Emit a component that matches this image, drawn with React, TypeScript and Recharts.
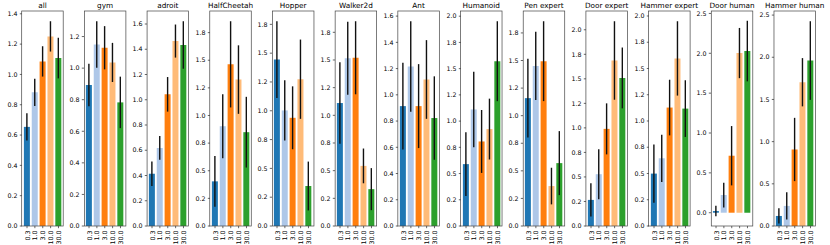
import React from 'react';
import { BarChart, Bar, XAxis, YAxis, Cell, ErrorBar } from 'recharts';

const categories = ['0.3', '1.0', '3.0', '10.0', '30.0'];
const barColors = ['#1f77b4', '#aec7e8', '#ff7f0e', '#ffbb78', '#2ca02c'];

const titles = [
  'all', 'gym', 'adroit', 'HalfCheetah', 'Hopper', 'Walker2d', 'Ant',
  'Humanoid', 'Pen expert', 'Door expert', 'Hammer expert', 'Door human', 'Hammer human',
];

// bar heights, one row per panel (same order as titles)
const means = [
  [0.654, 0.882, 1.086, 1.251, 1.108],
  [0.893, 1.150, 1.129, 1.036, 0.783],
  [0.414, 0.618, 1.043, 1.465, 1.434],
  [0.404, 0.903, 1.463, 1.325, 0.849],
  [1.444, 1.003, 0.939, 1.274, 0.347],
  [1.111, 1.515, 1.520, 0.543, 0.333],
  [0.914, 1.216, 0.914, 1.117, 0.823],
  [0.590, 1.111, 0.806, 0.924, 1.571],
  [1.159, 1.451, 1.494, 0.362, 0.570],
  [0.266, 0.528, 0.990, 1.687, 1.509],
  [0.499, 0.645, 1.128, 1.596, 1.118],
  [0.021, 0.222, 0.715, 2.003, 2.028],
  [0.119, 0.238, 0.907, 1.704, 1.961],
];

// symmetric error bar half-lengths
const errs = [
  [0.090, 0.090, 0.100, 0.100, 0.134],
  [0.135, 0.147, 0.137, 0.124, 0.163],
  [0.097, 0.094, 0.137, 0.131, 0.188],
  [0.230, 0.290, 0.390, 0.310, 0.320],
  [0.333, 0.262, 0.273, 0.344, 0.212],
  [0.368, 0.330, 0.330, 0.157, 0.190],
  [0.330, 0.345, 0.320, 0.300, 0.318],
  [0.303, 0.360, 0.300, 0.290, 0.381],
  [0.356, 0.310, 0.362, 0.166, 0.290],
  [0.170, 0.255, 0.260, 0.400, 0.310],
  [0.277, 0.225, 0.265, 0.354, 0.270],
  [0.065, 0.155, 0.372, 0.315, 0.380],
  [0.090, 0.162, 0.375, 0.286, 0.466],
];

const ticks02 = [0, 0.2, 0.4, 0.6, 0.8, 1.0, 1.2, 1.4, 1.6];
const ticks025 = [0, 0.25, 0.5, 0.75, 1.0, 1.25, 1.5, 1.75, 2.0];
const ticks05 = [0, 0.5, 1.0, 1.5, 2.0, 2.5];

const yTicks = [
  ticks02.slice(0, 8),
  ticks02.slice(0, 7),
  ticks02,
  ticks025.slice(0, 8),
  ticks025.slice(0, 8),
  ticks025.slice(0, 8),
  ticks02,
  ticks025,
  ticks025.slice(0, 8),
  ticks025,
  ticks025,
  ticks05,
  ticks05,
];

// python style '%.1f' (half to even), so 0.25 -> 0.2, 0.75 -> 0.8
const fmt = (v: number) => {
  const t = v * 10;
  const f = Math.floor(t + 1e-9);
  const d = t - f;
  let n = f;
  if (d > 0.5 + 1e-6) n = f + 1;
  else if (Math.abs(d - 0.5) <= 1e-6) n = f % 2 === 0 ? f : f + 1;
  return (n / 10).toFixed(1);
};

const FONT = 'DejaVu Sans';
const PLOT_TOP = 11;
const PLOT_H = 215;
const PLOT_W = 41.5;
const AXIS_W = 20;
const X0 = 21.7;
const STEP = 62.69;

function RotTick({ x, y, payload }: any) {
  return (
    <text
      x={x}
      y={y}
      transform={`rotate(-90 ${x} ${y})`}
      textAnchor="end"
      dominantBaseline="central"
      fontSize={6.3}
      fontFamily={FONT}
      fill="#000"
    >
      {payload.value}
    </text>
  );
}

function Panel({ idx }: { idx: number }) {
  const rows = categories.map((c, i) => ({ cat: c, v: means[idx][i], e: errs[idx][i] }));
  const lo = Math.min(0, ...rows.map(r => r.v - r.e));
  const hi = Math.max(...rows.map(r => r.v + r.e));
  const span = hi - lo;
  const domain = [lo < 0 ? lo - 0.05 * span : 0, hi + 0.05 * span];
  const left = X0 + STEP * idx;

  return (
    <div style={{ position: 'absolute', left: left - AXIS_W, top: 0 }}>
      <BarChart
        width={AXIS_W + PLOT_W}
        height={245}
        data={rows}
        margin={{ top: PLOT_TOP, right: 0, bottom: 0, left: 0 }}
        barCategoryGap="10%"
      >
        <XAxis
          dataKey="cat"
          height={245 - PLOT_TOP - PLOT_H}
          interval={0}
          tick={<RotTick />}
          tickSize={2.2}
          tickMargin={2.2}
          padding={{ left: 1.1, right: 1.1 }}
          axisLine={false}
          tickLine={{ stroke: '#000', strokeWidth: 0.6 }}
        />
        <YAxis
          width={AXIS_W}
          type="number"
          domain={domain}
          ticks={yTicks[idx]}
          tickFormatter={fmt}
          allowDataOverflow
          interval={0}
          axisLine={false}
          tickSize={2.2}
          tickMargin={2.2}
          tick={{ fontSize: 6.3, fill: '#000', fontFamily: FONT }}
          tickLine={{ stroke: '#000', strokeWidth: 0.6 }}
        />
        <Bar dataKey="v" isAnimationActive={false}>
          {rows.map((r, i) => (
            <Cell key={i} fill={barColors[i]} />
          ))}
          <ErrorBar dataKey="e" width={0} stroke="#111" strokeWidth={1.4} isAnimationActive={false} />
        </Bar>
      </BarChart>
    </div>
  );
}

export default function App() {
  return (
    <div style={{ position: 'absolute', left: 0, top: 0, width: 830, height: 245, background: '#fff' }}>
      {titles.map((t, i) => (
        <Panel key={t} idx={i} />
      ))}
      <svg width={830} height={245} style={{ position: 'absolute', left: 0, top: 0, pointerEvents: 'none' }}>
        {titles.map((t, i) => {
          const left = X0 + STEP * i;
          return (
            <g key={t}>
              <rect x={left} y={PLOT_TOP} width={PLOT_W} height={PLOT_H} fill="none" stroke="#444" strokeWidth={0.7} />
              <text x={left + PLOT_W / 2} y={8} textAnchor="middle" fontSize={7.3} fontFamily={FONT} fill="#000">
                {t}
              </text>
            </g>
          );
        })}
      </svg>
    </div>
  );
}
